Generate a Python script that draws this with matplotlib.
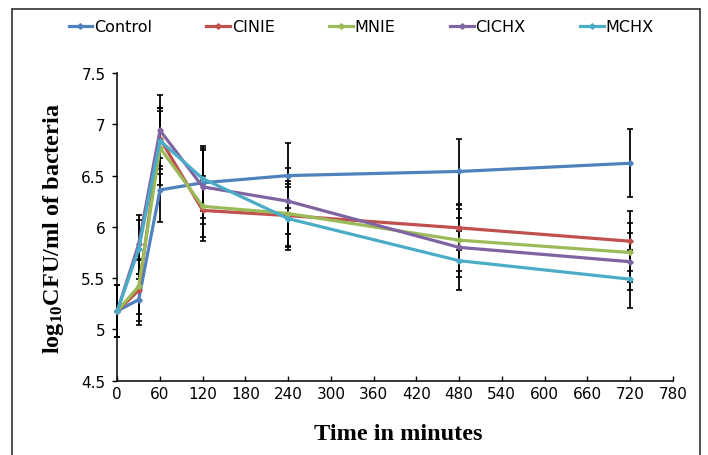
import matplotlib
matplotlib.use("Agg")
import matplotlib.pyplot as plt
from matplotlib.patches import Rectangle
from matplotlib.ticker import FuncFormatter

# ---- data ----
time = [0, 30, 60, 120, 240, 480, 720]
series_names = ["Control", "CINIE", "MNIE", "CICHX", "MCHX"]
control = [5.18, 5.29, 6.36, 6.43, 6.50, 6.54, 6.62]
cinie = [5.18, 5.38, 6.86, 6.16, 6.11, 5.99, 5.86]
mnie = [5.18, 5.42, 6.77, 6.20, 6.13, 5.87, 5.75]
cichx = [5.18, 5.83, 6.94, 6.39, 6.25, 5.80, 5.66]
mchx = [5.18, 5.78, 6.84, 6.47, 6.08, 5.67, 5.49]
control_err = [0.25, 0.25, 0.31, 0.34, 0.32, 0.32, 0.33]
cinie_err = [0.25, 0.30, 0.30, 0.30, 0.31, 0.22, 0.29]
mnie_err = [0.25, 0.27, 0.36, 0.30, 0.32, 0.30, 0.29]
cichx_err = [0.25, 0.29, 0.35, 0.36, 0.32, 0.29, 0.28]
mchx_err = [0.25, 0.29, 0.32, 0.32, 0.31, 0.29, 0.28]
x_ticks = list(range(0, 781, 60))
y_ticks = [4.5, 5, 5.5, 6, 6.5, 7, 7.5]

values = [control, cinie, mnie, cichx, mchx]
errors = [control_err, cinie_err, mnie_err, cichx_err, mchx_err]
colors = ["#4F81BD", "#C0504D", "#9BBB59", "#8064A2", "#4BACC6"]

plt.rcParams['mathtext.fontset'] = 'custom'
plt.rcParams['mathtext.rm'] = 'Liberation Serif:bold'
plt.rcParams['mathtext.default'] = 'rm'

W, H = 708, 456
fig = plt.figure(figsize=(W / 100, H / 100), dpi=100)
ax = fig.add_axes([117.3 / W, 1 - 381.7 / H, (672.7 - 117.3) / W, (381.7 - 74) / H])

for v, e in zip(values, errors):
    ax.errorbar(time, v, yerr=e, fmt='none', ecolor='black', elinewidth=1.3,
                capsize=2.5, capthick=1.2, zorder=2, clip_on=False)

handles = []
for name, v, c in zip(series_names, values, colors):
    h, = ax.plot(time, v, color=c, lw=2.3, marker='D', markersize=2.8,
                 label=name, zorder=3, clip_on=False)
    handles.append(h)

ax.set_xlim(0, 780)
ax.set_ylim(4.5, 7.5)
ax.set_xticks(x_ticks)
ax.set_yticks(y_ticks)
ax.yaxis.set_major_formatter(FuncFormatter(lambda y, p: f"{y:g}"))
for s in ['top', 'right']:
    ax.spines[s].set_visible(False)
for s in ['left', 'bottom']:
    ax.spines[s].set_linewidth(1.1)
    ax.spines[s].set_color('black')
ax.tick_params(axis='x', direction='in', length=3.5, width=1.0, pad=4,
               labelsize=11, labelfontfamily='DejaVu Sans')
ax.tick_params(axis='y', direction='out', length=3.5, width=1.0, pad=5,
               labelsize=11, labelfontfamily='DejaVu Sans')
ax.patch.set_visible(False)

fig.text(398 / W, 1 - 435 / H, "Time in minutes", ha='center', va='center',
         fontsize=17.5, fontweight='bold', family='Liberation Serif')
fig.text(53 / W, 1 - 229 / H, r"log$_{10}$CFU/ml of bacteria", ha='center',
         va='center', rotation=90, fontsize=17.5, fontweight='bold',
         family='Liberation Serif')

fig.legend(handles=handles, loc='center', bbox_to_anchor=(361 / W, 1 - 28 / H),
           ncol=5, frameon=False, handlelength=1.5, handletextpad=0.1,
           columnspacing=3.4, prop={'family': 'DejaVu Sans', 'size': 11.5})

fig.patches.append(Rectangle((12 / W, -0.1), 688 / W, 1 - 10 / H + 0.1,
                             transform=fig.transFigure, fill=False,
                             lw=1.2, ec='#303030'))

fig.savefig("out.png", dpi=100)
